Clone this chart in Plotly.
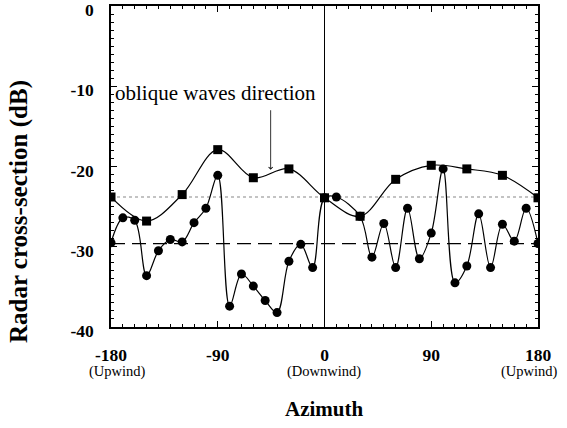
import plotly.graph_objects as go

# Data
sq_az = [-180, -150, -120, -90, -60, -30, 0, 30, 60, 90, 120, 150, 180]
sq_db = [-23.8, -26.8, -23.5, -17.9, -21.4, -20.3, -23.9, -26.2, -21.6, -19.85, -20.3, -21.1, -23.9]

ci_az = [-180, -170, -160, -150, -140, -130, -120, -110, -100, -90, -80, -70, -60, -50, -40,
         -30, -20, -10, 0, 10, 30, 40, 50, 60, 70, 80, 90, 100, 110, 120, 130, 140, 150, 160, 170, 180]
ci_db = [-29.5, -26.4, -26.7, -33.6, -30.5, -29.1, -29.4, -27.0, -25.2, -21.1, -37.4, -33.4, -34.9,
         -36.7, -38.2, -31.8, -29.7, -32.6, -23.9, -23.8, -26.2, -31.3, -27.1, -32.6, -25.2, -31.5,
         -28.3, -20.3, -34.5, -32.4, -25.9, -32.6, -27.2, -29.3, -25.2, -29.6]

dotted_level = -23.8
dashed_level = -29.6

x_tickvals = [-180, -90, 0, 90, 180]
x_ticktext = ["-180", "-90", "0", "90", "180"]
x_sublabels = ["(Upwind)", "(Downwind)", "(Upwind)"]
y_tickvals = [0, -10, -20, -30, -40]

serif = "Liberation Serif, Times New Roman, serif"

W, H = 567, 428
ML, MR, MT, MB = 111, 29, 6, 101
PW, PH = W - ML - MR, H - MT - MB


def px_x(p):
    return (p - ML) / PW


def px_y(p):
    return 1 - (p - MT) / PH


fig = go.Figure()

fig.add_trace(go.Scatter(x=[-180, 180], y=[dotted_level, dotted_level], mode="lines",
                         line=dict(color="#888888", width=1.2, dash="dot"), hoverinfo="skip"))
fig.add_trace(go.Scatter(x=[-180, 180], y=[dashed_level, dashed_level], mode="lines",
                         line=dict(color="black", width=1.3, dash="14px,7px"), hoverinfo="skip"))
fig.add_trace(go.Scatter(x=[0, 0], y=[-40, 0], mode="lines",
                         line=dict(color="black", width=1), hoverinfo="skip"))

fig.add_trace(go.Scatter(x=sq_az, y=sq_db, mode="lines+markers",
                         line=dict(color="black", width=1.2, shape="spline", smoothing=1),
                         marker=dict(symbol="square", size=9, color="black")))
fig.add_trace(go.Scatter(x=ci_az, y=ci_db, mode="lines+markers",
                         line=dict(color="black", width=1.2, shape="spline", smoothing=1),
                         marker=dict(symbol="circle", size=9, color="black")))

fig.add_annotation(x=-45.4, y=-20.4, ax=-45.4, ay=-12.8, xref="x", yref="y", axref="x", ayref="y",
                   showarrow=True, arrowhead=4, arrowsize=1, arrowwidth=0.8, arrowcolor="black", text="")
fig.add_annotation(x=-91.9, y=-10.9, xref="x", yref="y", text="oblique waves direction",
                   showarrow=False, xanchor="center", yanchor="middle",
                   font=dict(family=serif, size=21, color="black"))

for cx, t in zip([117, 324, 529], x_sublabels):
    fig.add_annotation(x=px_x(cx), y=px_y(372), xref="paper", yref="paper", text=t, showarrow=False,
                       xanchor="center", yanchor="middle",
                       font=dict(family=serif, size=14.5, color="black"))

fig.add_annotation(x=px_x(324), y=px_y(409), xref="paper", yref="paper", text="<b>Azimuth</b>",
                   showarrow=False, xanchor="center", yanchor="middle",
                   font=dict(family=serif, size=21, color="black"))
fig.add_annotation(x=px_x(19), y=px_y(212), xref="paper", yref="paper",
                   text="<b>Radar cross-section (dB)</b>", showarrow=False, textangle=-90,
                   xanchor="center", yanchor="middle",
                   font=dict(family=serif, size=25, color="black"))

fig.update_layout(
    width=W, height=H,
    margin=dict(l=ML, r=MR, t=MT, b=MB, autoexpand=False),
    paper_bgcolor="white", plot_bgcolor="white",
    showlegend=False,
    font=dict(family=serif, color="black"),
)

fig.update_xaxes(range=[-180, 180], tickvals=x_tickvals, ticktext=["<b>%s</b>" % t for t in x_ticktext],
                 tickfont=dict(family=serif, size=17.5, color="black"),
                 ticks="inside", ticklen=6, tickwidth=1, tickcolor="black",
                 minor=dict(dtick=10, tick0=0, ticks="inside", ticklen=3, tickcolor="black", tickwidth=1),
                 showline=True, linecolor="black", linewidth=1.5, mirror="allticks",
                 showgrid=False, zeroline=False, ticklabelstandoff=11, ticklabeloverflow="allow",
                 automargin=False)
fig.update_yaxes(range=[-40, 0], tickvals=y_tickvals, ticktext=["<b>%d</b>" % v for v in y_tickvals],
                 tickfont=dict(family=serif, size=17.5, color="black"),
                 ticks="inside", ticklen=6, tickwidth=1, tickcolor="black",
                 minor=dict(dtick=1, tick0=0, ticks="inside", ticklen=3, tickcolor="black", tickwidth=1),
                 showline=True, linecolor="black", linewidth=1.5, mirror="allticks",
                 showgrid=False, zeroline=False, ticklabelstandoff=12, ticklabelshift=4,
                 ticklabeloverflow="allow", automargin=False)

fig.write_html("out.html", config={"displayModeBar": False},
               post_script="document.body.style.margin='0';")
